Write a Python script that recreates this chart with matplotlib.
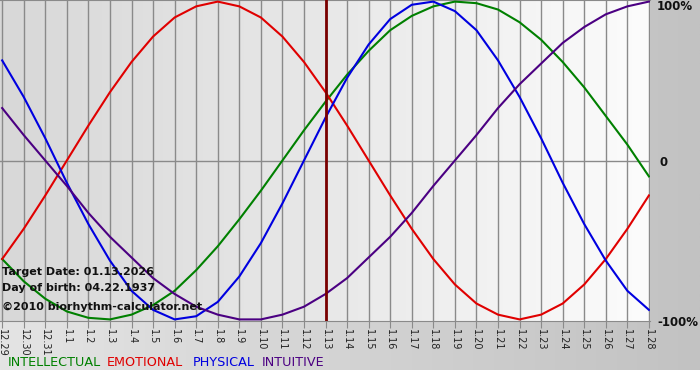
import numpy as np
import matplotlib
matplotlib.use('Agg')
import matplotlib.pyplot as plt
from matplotlib.colors import LinearSegmentedColormap

# days shown on the x axis
dates = ['12.29', '12.30', '12.31'] + ['1.%d' % d for d in range(1, 29)]
target_idx = 15  # 1.13

intellectual = [-0.62, -0.76, -0.87, -0.95, -0.99, -1.00, -0.97, -0.91, -0.82, -0.69,
                -0.54, -0.37, -0.19, 0.00, 0.19, 0.37, 0.54, 0.69, 0.82, 0.91,
                0.97, 1.00, 0.99, 0.95, 0.87, 0.76, 0.62, 0.46, 0.28, 0.10, -0.10]
emotional = [-0.62, -0.43, -0.22, 0.00, 0.22, 0.43, 0.62, 0.78, 0.90, 0.97,
             1.00, 0.97, 0.90, 0.78, 0.62, 0.43, 0.22, 0.00, -0.22, -0.43,
             -0.62, -0.78, -0.90, -0.97, -1.00, -0.97, -0.90, -0.78, -0.62, -0.43, -0.22]
physical = [0.63, 0.40, 0.14, -0.14, -0.40, -0.63, -0.82, -0.94, -1.00, -0.98,
            -0.89, -0.73, -0.52, -0.27, 0.00, 0.27, 0.52, 0.73, 0.89, 0.98,
            1.00, 0.94, 0.82, 0.63, 0.40, 0.14, -0.14, -0.40, -0.63, -0.82, -0.94]
intuitive = [0.33, 0.16, 0.00, -0.16, -0.33, -0.48, -0.61, -0.74, -0.84, -0.92,
             -0.97, -1.00, -1.00, -0.97, -0.92, -0.84, -0.74, -0.61, -0.48, -0.33,
             -0.16, 0.00, 0.16, 0.33, 0.48, 0.61, 0.74, 0.84, 0.92, 0.97, 1.00]

W, H = 700, 380
fig = plt.figure(figsize=(7, 3.8), dpi=100)
fig.patch.set_facecolor('white')

# background gradient
bg = fig.add_axes([0, 0, 1, 1])
bg.axis('off')
bg.set_xlim(0, 1)
bg.set_ylim(0, 1)
grad = np.linspace(0, 1, 256).reshape(1, -1)
bg_cmap = LinearSegmentedColormap.from_list('bg', ['#e4e4e4', '#c2c2c2'])
bg.imshow(grad, cmap=bg_cmap, aspect='auto', extent=[0, 1, 10 / H, 1])

ax = fig.add_axes([0, 59 / H, 650 / W, 321 / H])
x = np.arange(len(dates))
ax.set_xlim(-0.1, 30.05)
ax.set_ylim(-1.01, 1.01)
plot_cmap = LinearSegmentedColormap.from_list('pl', ['#d8d8d8', '#e8e8e8', '#fcfcfc'])
ax.imshow(grad, cmap=plot_cmap, aspect='auto', extent=[-0.1, 30.05, -1.01, 1.01], zorder=0)

for i in x:
    ax.axvline(i, color='#8a8a8a', lw=1, zorder=1)
ax.axhline(0, color='#8a8a8a', lw=1, zorder=1)

ax.plot(x, intellectual, color='#008000', lw=1.5, zorder=3)
ax.plot(x, emotional, color='#e00000', lw=1.5, zorder=3)
ax.plot(x, physical, color='#0000e0', lw=1.5, zorder=3)
ax.plot(x, intuitive, color='#4b0082', lw=1.5, zorder=3)
ax.axvline(target_idx, color='#7a0000', lw=2, zorder=4)

for s in ['left', 'right']:
    ax.spines[s].set_visible(False)
ax.spines['top'].set_color('#8a8a8a')
ax.spines['bottom'].set_color('#8a8a8a')
ax.set_yticks([])
ax.set_xticks(x)
ax.set_xticklabels(dates, rotation=-90, fontsize=7, color='#222222')
ax.tick_params(axis='x', length=5, color='#8a8a8a', pad=1)

# right side labels
fig.text(657 / W, 1 - 6 / H, '100%', fontsize=8.5, fontweight='bold', va='center', color='#111111')
fig.text(659 / W, 1 - 162 / H, '0', fontsize=8.5, fontweight='bold', va='center', color='#111111')
fig.text(657 / W, 1 - 322 / H, '-100%', fontsize=8.5, fontweight='bold', va='center', color='#111111')

# info text
fig.text(2 / W, 1 - 272 / H, 'Target Date: 01.13.2026', fontsize=8, fontweight='bold', va='center', color='#111111')
fig.text(2 / W, 1 - 288 / H, 'Day of birth: 04.22.1937', fontsize=8, fontweight='bold', va='center', color='#111111')
fig.text(2 / W, 1 - 307 / H, '\u00a92010 biorhythm-calculator.net', fontsize=8, fontweight='bold', va='center', color='#111111')

# legend
fig.text(8 / W, 1 - 362 / H, 'INTELLECTUAL', fontsize=9.2, color='#008000', va='center')
fig.text(107 / W, 1 - 362 / H, 'EMOTIONAL', fontsize=9.2, color='#e00000', va='center')
fig.text(193 / W, 1 - 362 / H, 'PHYSICAL', fontsize=9.2, color='#0000e0', va='center')
fig.text(262 / W, 1 - 362 / H, 'INTUITIVE', fontsize=9.2, color='#4b0082', va='center')

fig.savefig('out.png', dpi=100)
